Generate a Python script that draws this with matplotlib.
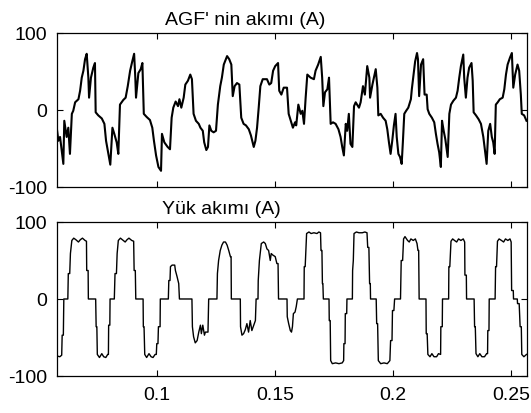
import numpy as np
import matplotlib
matplotlib.use("Agg")
import matplotlib.pyplot as plt

plt.rcParams['font.family'] = ['Liberation Sans', 'DejaVu Sans']
plt.rcParams['axes.unicode_minus'] = False

# AGF current (top), time in ms, current in A
agf_t = [57.5, 58.2, 58.9, 59.6, 60.3, 60.7, 61.7, 62.4, 63.1, 63.9, 64.5, 65.3, 66.7, 67.4, 68.1, 68.8,
         69.5, 70.2, 70.9, 71.2, 72.0, 73.0, 73.7, 74.0, 75.1, 76.6, 77.7, 78.4, 79.4, 80.2, 81.1, 81.9,
         82.9, 83.6, 84.3, 85.7, 86.7, 87.6, 88.6, 89.5, 90.3, 90.8, 91.1, 92.1, 93.1, 93.8, 94.4, 95.6,
         97.0, 98.0, 98.7, 99.6, 100.6, 101.7, 102.1, 103.1, 104.5, 105.5, 106.2, 106.9, 107.9, 108.9,
         109.5, 110.3, 111.3, 112.0, 113.1, 114.1, 114.8, 115.5, 116.5, 117.7, 118.4, 119.4, 120.0, 120.9,
         121.6, 122.2, 123.0, 124.0, 125.0, 125.8, 126.8, 127.5, 128.3, 129.7, 130.6, 131.5, 132.1, 132.9,
         133.9, 134.9, 135.7, 136.7, 137.7, 138.9, 139.8, 141.0, 141.7, 142.4, 143.1, 143.8, 144.8, 146.6,
         147.6, 148.4, 149.2, 150.1, 151.3, 151.8, 152.7, 153.7, 155.1, 155.8, 156.9, 157.6, 158.5, 159.0,
         159.9, 160.9, 161.6, 162.3, 163.0, 163.7, 165.1, 166.5, 167.2, 168.3, 169.4, 170.0, 170.5, 171.2,
         172.2, 172.9, 173.6, 174.6, 175.7, 176.9, 177.8, 178.5, 179.2, 180.0, 180.6, 181.3, 182.0, 182.8,
         183.5, 184.2, 185.6, 186.3, 187.3, 188.1, 189.1, 190.0, 190.3, 191.3, 192.7, 193.4, 193.8, 194.8,
         195.8, 196.9, 197.6, 198.3, 199.0, 199.7, 200.4, 201.1, 201.6, 202.3, 203.0, 203.7, 204.2, 204.8,
         205.6, 206.5, 207.6, 208.0, 208.6, 209.4, 210.2, 210.6, 211.1, 211.9, 212.8, 213.4, 214.3, 214.7,
         215.4, 216.5, 217.5, 218.2, 218.9, 219.6, 220.3, 220.8, 221.5, 222.2, 223.2, 223.9, 224.6, 225.6,
         226.7, 227.4, 228.1, 228.8, 229.8, 230.2, 230.9, 231.6, 232.3, 233.3, 233.8, 234.2, 235.2, 236.3,
         237.3, 238.3, 239.0, 239.7, 240.4, 241.2, 241.9, 242.5, 243.1, 243.6, 244.4, 245.3, 246.5, 247.2,
         247.9, 248.6, 249.6, 250.4, 251.0, 251.8, 252.8, 253.5, 254.2, 254.6, 255.6, 256.6]
agf_i = [-23, -40, -35, -53, -70, -14, -35, -23, -57, -5, -1, 10, 14, 25, 42, 51,
         66, 73, 42, 16, 42, 55, 61, -3, -7, -11, -18, -40, -57, -71, -23, -31,
         -42, -57, 7, 13, 16, 31, 51, 63, 73, 42, 16, 48, 53, 61, -5, -9,
         -13, -23, -40, -59, -74, -79, -31, -42, -48, -51, -10, 3, 11, 5,
         14, 3, 16, 33, 38, 46, 40, -5, -14, -18, -23, -27, -42, -52,
         -48, -20, -27, -29, -27, 7, 31, 42, 59, 70, 66, 59, 18, 31,
         35, 33, -10, -18, -20, -25, -33, -48, -40, -23, 3, 31, 40, 40,
         33, 35, 51, 57, 61, 25, 20, 29, 29, -5, -16, -23, -16, -20,
         7, -5, -1, -18, 16, 46, 42, 40, 51, 59, 69, 42, 5, 23,
         27, 42, -18, -16, -18, -25, -35, -48, -59, -18, -27, -5, -44, -48,
         5, 10, 3, 10, 31, 20, 57, 42, 16, 33, 53, 29, -7, -5,
         -10, -14, -25, -42, -57, -40, -20, -5, -35, -57, -61, -70, -42, -5,
         -1, 3, 14, 27, 42, 63, 74, 66, 18, 59, 66, 20, 20, 1,
         -5, -10, -16, -31, -44, -55, -74, -14, -27, -38, -61, -5, 7, 12,
         16, 25, 42, 57, 72, 42, 16, 42, 55, 61, 38, -3, -7, -12,
         -18, -35, -53, -70, -27, -18, -35, -42, -57, 7, 10, 14, 16, 27,
         46, 59, 68, 74, 29, 46, 59, 51, 20, -5, -7, -14]

# load current (bottom), time in ms, current in A
yuk_t = [57.6, 58.8, 59.6, 59.8, 60.3, 60.5, 62.2, 62.4, 63.0, 63.3, 63.9, 64.7, 65.6, 66.7, 67.5, 68.4,
         69.5, 70.1, 70.2, 70.8, 70.9, 74.0, 74.2, 74.5, 74.7, 75.6, 76.6, 77.4, 78.3, 79.1, 79.4, 79.5,
         80.0, 80.1, 81.9, 82.2, 82.8, 83.1, 83.6, 84.5, 85.3, 86.5, 87.3, 88.1, 89.3, 90.1, 90.3, 90.8,
         91.0, 94.1, 94.2, 94.5, 94.8, 95.6, 96.6, 97.5, 98.3, 99.2, 99.7, 99.9, 100.4, 100.6, 101.3, 101.4,
         104.8, 105.0, 105.5, 105.7, 106.4, 107.5, 107.8, 108.5, 109.2, 109.5, 114.8, 115.0, 115.5, 116.2,
         117.0, 117.7, 118.4, 118.8, 119.4, 120.1, 120.5, 121.6, 121.9, 125.4, 125.6, 126.1, 126.8, 127.5,
         128.2, 129.0, 129.7, 130.4, 131.1, 131.4, 131.5, 135.3, 135.4, 136.0, 136.7, 137.4, 138.1, 138.8,
         139.5, 140.2, 141.0, 141.7, 142.0, 142.8, 142.9, 143.4, 144.2, 145.2, 145.9, 146.6, 147.3, 148.0,
         148.4, 149.1, 150.1, 150.8, 151.3, 151.5, 155.1, 155.2, 155.8, 156.5, 157.0, 157.4, 157.8, 158.5,
         159.0, 159.5, 162.3, 162.4, 162.8, 163.1, 163.4, 164.4, 165.3, 166.5, 167.8, 168.6, 169.3, 169.5,
         169.9, 170.1, 170.3, 170.5, 172.9, 173.0, 173.4, 173.6, 174.3, 175.7, 177.1, 178.5, 179.1, 179.2,
         179.7, 179.8, 180.4, 180.5, 182.8, 182.9, 183.2, 183.5, 184.5, 185.6, 187.0, 188.1, 189.0, 189.3,
         189.8, 190.1, 190.4, 190.5, 192.9, 193.1, 193.5, 193.8, 194.8, 196.2, 197.6, 198.7, 199.0, 199.6,
         199.8, 200.4, 200.7, 203.2, 203.5, 204.1, 204.5, 205.1, 206.2, 206.9, 207.6, 208.6, 209.5, 210.2,
         210.6, 210.9, 211.1, 214.0, 214.1, 214.5, 214.8, 215.7, 216.5, 217.4, 218.5, 219.3, 220.2, 220.3,
         220.9, 221.0, 223.6, 223.7, 224.1, 224.6, 225.3, 226.1, 227.0, 227.8, 228.8, 229.8, 230.4, 230.5,
         231.1, 231.2, 234.4, 234.6, 234.9, 235.2, 236.0, 236.8, 237.7, 238.8, 239.7, 240.1, 240.2, 240.7,
         240.8, 243.3, 243.5, 243.9, 244.3, 245.0, 246.0, 246.9, 247.7, 248.7, 249.6, 250.1, 250.3, 251.0,
         251.1, 252.7, 252.8, 253.5, 253.9, 254.4, 254.6, 255.5, 256.6]
yuk_i = [-74, -75, -73, -47, -47, 0, 0, 33, 33, 59, 76, 79, 77, 74, 77, 79,
         76, 75, 37, 37, 0, 0, -36, -36, -72, -76, -71, -75, -76, -72, -72, -34,
         -34, 0, 0, 33, 33, 59, 76, 79, 77, 74, 77, 79, 76, 75, 37, 37,
         0, 0, -36, -36, -72, -76, -71, -75, -76, -72, -72, -58, -58, -36, -36, 0,
         0, 24, 24, 42, 44, 44, 37, 29, 20, 0, 0, -36, -49, -57,
         -54, -43, -34, -45, -34, -47, -43, -43, 0, 0, 33, 50, 63, 70,
         74, 74, 70, 63, 55, 55, 0, 0, -36, -47, -45, -40, -32, -43,
         -28, -41, -34, -28, 0, 0, 24, 50, 72, 74, 72, 65, 63, 50,
         59, 57, 55, 46, 46, 0, 0, -23, -32, -41, -43, -36, -19, -17,
         -10, 0, 0, 42, 42, 63, 85, 87, 85, 86, 85, 87, 86, 63,
         63, 20, 20, 0, 0, -28, -28, -80, -84, -83, -84, -83, -80, -58,
         -58, -19, -19, 0, 0, 37, 50, 85, 87, 86, 86, 87, 86, 67,
         67, 20, 20, 0, 0, -32, -32, -80, -84, -83, -84, -80, -54, -54,
         -15, -15, 0, 0, 50, 50, 78, 81, 76, 74, 78, 76, 78, 72,
         63, 63, 0, 0, -45, -45, -72, -75, -71, -75, -75, -71, -72, -36,
         -36, 0, 0, 42, 42, 75, 78, 76, 74, 78, 76, 78, 74, 31,
         31, 0, 0, -36, -36, -71, -75, -71, -75, -75, -71, -71, -41, -41,
         0, 0, 42, 42, 75, 78, 76, 74, 78, 76, 78, 74, 11, 11,
         0, 0, -6, -6, -36, -36, -72, -75, -72]

x_ticks = [0.1, 0.15, 0.2, 0.25]
x_labels = ['0.1', '0.15', '0.2', '0.25']
y_ticks = [-100, 0, 100]

fig = plt.figure(figsize=(5.31, 4.14), dpi=100)
ax1 = fig.add_axes([0.1073, 0.5459, 0.8851, 0.3720])
ax2 = fig.add_axes([0.1073, 0.0894, 0.8851, 0.3720])

ax1.plot(np.array(agf_t) / 1000, agf_i, color='black', linewidth=1.5)
ax2.plot(np.array(yuk_t) / 1000, yuk_i, color='black', linewidth=1.0)

for ax in (ax1, ax2):
    ax.set_xlim(0.0576, 0.2568)
    ax.set_ylim(-100, 100)
    ax.set_xticks(x_ticks)
    ax.set_yticks(y_ticks)
    ax.tick_params(direction='in', top=True, right=True, length=4, width=0.8,
                   labelsize=14, pad=7, colors='black')
    for s in ax.spines.values():
        s.set_linewidth(0.9)
        s.set_color('black')

ax1.set_xticklabels([])
ax2.set_xticklabels(x_labels)

ax1.text(0.23, 1.03, "AGF' nin akımı (A)", transform=ax1.transAxes,
         ha='left', va='bottom', fontsize=14)
ax2.text(0.223, 1.03, "Yük akımı (A)", transform=ax2.transAxes,
         ha='left', va='bottom', fontsize=14)

fig.savefig('out.png', dpi=100)
